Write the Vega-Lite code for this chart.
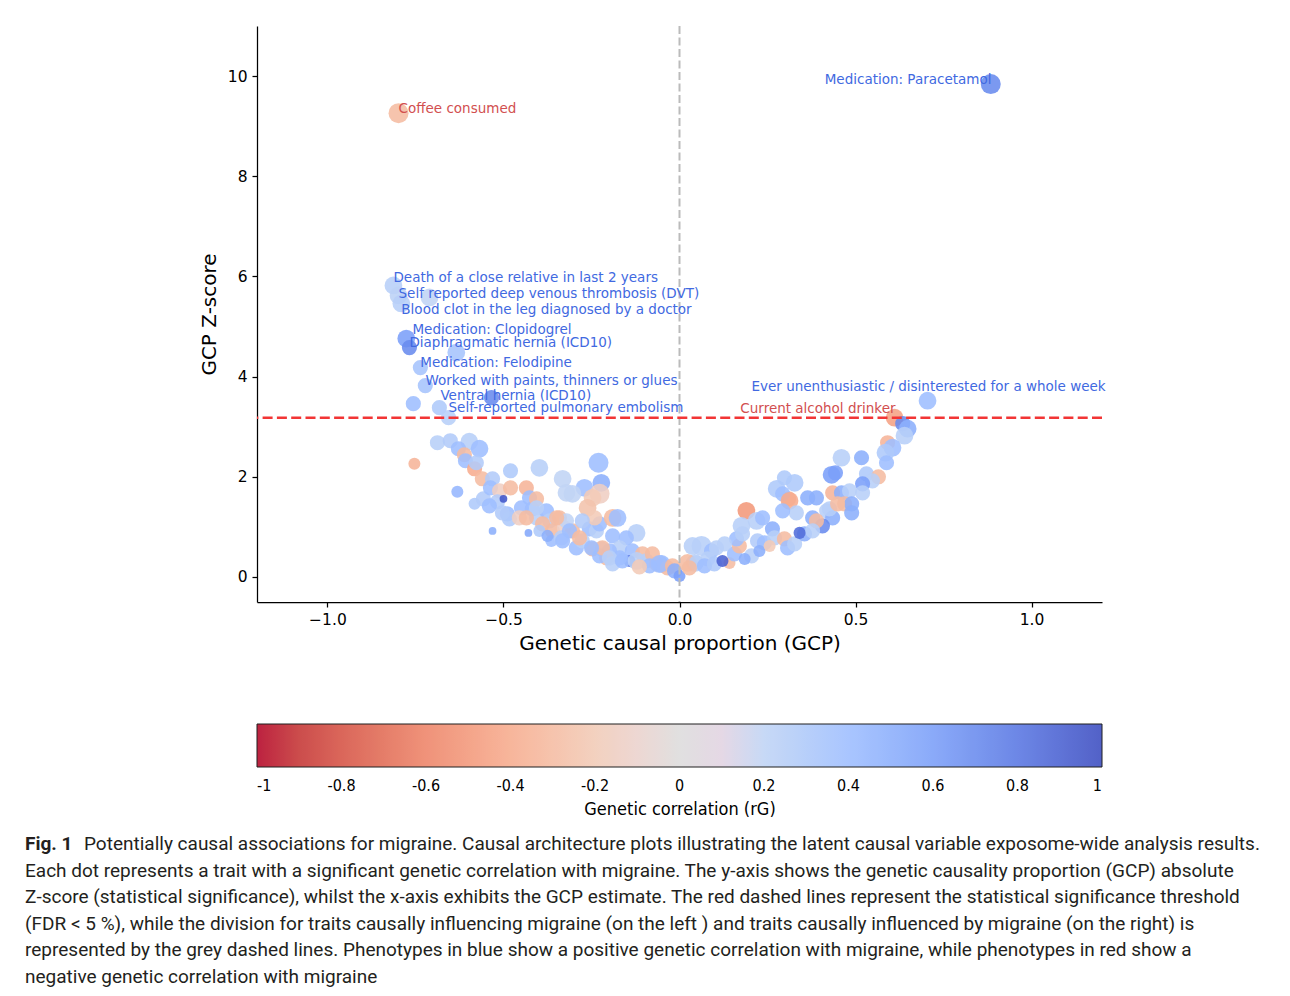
{
  "$schema": "https://vega.github.io/schema/vega-lite/v6.json",
  "background": "white",
  "padding": {"left": 25, "top": 25, "right": 0, "bottom": 0},
  "config": {"view": {"stroke": null}, "font": "DejaVu Sans"},
  "resolve": {"scale": {"color": "independent", "x": "independent", "y": "independent"}, "legend": {"color": "independent"}},
  "spacing": 16,
  "vconcat": [
    {
      "width": 845,
      "height": 576,
      "layer": [
        {
          "data": {"values": [
            {"gcp": -0.798, "z": 9.26, "rg": -0.3, "w": 5},
            {"gcp": 0.884, "z": 9.84, "rg": 0.7, "w": 5},
            {"gcp": -0.8125, "z": 5.82, "rg": 0.25, "w": 4},
            {"gcp": -0.798, "z": 5.62, "rg": 0.22, "w": 4},
            {"gcp": -0.79, "z": 5.46, "rg": 0.25, "w": 4},
            {"gcp": -0.71, "z": 5.58, "rg": 0.2, "w": 4},
            {"gcp": -0.776, "z": 4.76, "rg": 0.6, "w": 4},
            {"gcp": -0.767, "z": 4.58, "rg": 0.7, "w": 3},
            {"gcp": -0.634, "z": 4.48, "rg": 0.35, "w": 4},
            {"gcp": -0.736, "z": 4.18, "rg": 0.35, "w": 3},
            {"gcp": -0.722, "z": 3.82, "rg": 0.35, "w": 3},
            {"gcp": -0.756, "z": 3.46, "rg": 0.4, "w": 3},
            {"gcp": -0.534, "z": 3.58, "rg": 0.7, "w": 3},
            {"gcp": -0.682, "z": 3.38, "rg": 0.3, "w": 3},
            {"gcp": -0.656, "z": 3.18, "rg": 0.25, "w": 3},
            {"gcp": -0.6875, "z": 2.68, "rg": 0.25, "w": 3},
            {"gcp": -0.651, "z": 2.72, "rg": 0.28, "w": 3},
            {"gcp": -0.597, "z": 2.7, "rg": 0.25, "w": 4},
            {"gcp": -0.568, "z": 2.56, "rg": 0.4, "w": 4},
            {"gcp": -0.628, "z": 2.56, "rg": 0.4, "w": 3},
            {"gcp": -0.611, "z": 2.44, "rg": -0.3, "w": 3},
            {"gcp": -0.608, "z": 2.32, "rg": 0.4, "w": 3},
            {"gcp": -0.582, "z": 2.16, "rg": -0.4, "w": 3},
            {"gcp": -0.577, "z": 2.28, "rg": 0.28, "w": 3},
            {"gcp": -0.753, "z": 2.26, "rg": -0.35, "w": 2},
            {"gcp": -0.631, "z": 1.7, "rg": 0.45, "w": 2},
            {"gcp": -0.582, "z": 1.46, "rg": 0.3, "w": 2},
            {"gcp": -0.557, "z": 1.56, "rg": 0.28, "w": 3},
            {"gcp": -0.531, "z": 0.92, "rg": 0.5, "w": 1},
            {"gcp": -0.429, "z": 0.88, "rg": 0.55, "w": 1},
            {"gcp": -0.48, "z": 2.12, "rg": 0.3, "w": 3},
            {"gcp": -0.398, "z": 2.18, "rg": 0.25, "w": 4},
            {"gcp": -0.56, "z": 1.96, "rg": -0.3, "w": 3},
            {"gcp": -0.531, "z": 1.96, "rg": 0.28, "w": 3},
            {"gcp": -0.537, "z": 1.78, "rg": 0.4, "w": 3},
            {"gcp": -0.511, "z": 1.72, "rg": -0.15, "w": 3},
            {"gcp": -0.48, "z": 1.78, "rg": -0.3, "w": 3},
            {"gcp": -0.435, "z": 1.78, "rg": -0.35, "w": 3},
            {"gcp": -0.517, "z": 1.5, "rg": 0.28, "w": 3},
            {"gcp": -0.489, "z": 1.26, "rg": 0.4, "w": 3},
            {"gcp": -0.483, "z": 1.16, "rg": 0.3, "w": 3},
            {"gcp": -0.449, "z": 1.38, "rg": 0.4, "w": 3},
            {"gcp": -0.455, "z": 1.18, "rg": -0.15, "w": 3},
            {"gcp": -0.418, "z": 1.36, "rg": 0.4, "w": 3},
            {"gcp": -0.406, "z": 1.18, "rg": 0.25, "w": 3},
            {"gcp": -0.378, "z": 1.32, "rg": 0.4, "w": 3},
            {"gcp": -0.369, "z": 1.12, "rg": 0.25, "w": 3},
            {"gcp": -0.389, "z": 1.06, "rg": -0.3, "w": 3},
            {"gcp": -0.341, "z": 1.18, "rg": -0.3, "w": 3},
            {"gcp": -0.361, "z": 0.92, "rg": -0.3, "w": 3},
            {"gcp": -0.327, "z": 0.98, "rg": -0.15, "w": 3},
            {"gcp": -0.304, "z": 0.92, "rg": -0.3, "w": 3},
            {"gcp": -0.364, "z": 0.72, "rg": 0.4, "w": 2},
            {"gcp": -0.335, "z": 0.78, "rg": 0.25, "w": 3},
            {"gcp": -0.293, "z": 0.58, "rg": 0.4, "w": 3},
            {"gcp": -0.256, "z": 0.96, "rg": 0.4, "w": 3},
            {"gcp": -0.236, "z": 0.92, "rg": 0.25, "w": 3},
            {"gcp": -0.227, "z": 1.06, "rg": 0.4, "w": 3},
            {"gcp": -0.19, "z": 1.18, "rg": -0.3, "w": 4},
            {"gcp": -0.176, "z": 1.18, "rg": 0.4, "w": 4},
            {"gcp": -0.122, "z": 0.88, "rg": 0.25, "w": 4},
            {"gcp": -0.19, "z": 0.82, "rg": 0.4, "w": 3},
            {"gcp": -0.151, "z": 0.78, "rg": 0.4, "w": 3},
            {"gcp": -0.17, "z": 0.58, "rg": 0.25, "w": 3},
            {"gcp": -0.247, "z": 0.56, "rg": -0.3, "w": 3},
            {"gcp": -0.222, "z": 0.56, "rg": 0.25, "w": 3},
            {"gcp": -0.199, "z": 0.52, "rg": 0.4, "w": 3},
            {"gcp": -0.276, "z": 0.72, "rg": 0.25, "w": 3},
            {"gcp": -0.134, "z": 0.52, "rg": 0.4, "w": 3},
            {"gcp": -0.142, "z": 0.32, "rg": 0.8, "w": 2},
            {"gcp": -0.105, "z": 0.46, "rg": -0.3, "w": 3},
            {"gcp": -0.094, "z": 0.32, "rg": 0.25, "w": 3},
            {"gcp": -0.065, "z": 0.26, "rg": -0.3, "w": 3},
            {"gcp": -0.051, "z": 0.26, "rg": 0.4, "w": 4},
            {"gcp": -0.034, "z": 0.18, "rg": -0.3, "w": 3},
            {"gcp": -0.17, "z": 0.38, "rg": 0.4, "w": 3},
            {"gcp": -0.207, "z": 0.38, "rg": -0.3, "w": 3},
            {"gcp": -0.227, "z": 0.42, "rg": 0.4, "w": 3},
            {"gcp": -0.19, "z": 0.26, "rg": 0.25, "w": 3},
            {"gcp": -0.23, "z": 2.28, "rg": 0.4, "w": 5},
            {"gcp": -0.222, "z": 1.88, "rg": 0.5, "w": 4},
            {"gcp": -0.332, "z": 1.96, "rg": 0.2, "w": 4},
            {"gcp": -0.321, "z": 1.68, "rg": 0.2, "w": 4},
            {"gcp": -0.27, "z": 1.78, "rg": 0.4, "w": 4},
            {"gcp": -0.227, "z": 1.66, "rg": -0.15, "w": 5},
            {"gcp": -0.247, "z": 1.58, "rg": -0.2, "w": 4},
            {"gcp": -0.261, "z": 1.38, "rg": -0.25, "w": 4},
            {"gcp": -0.241, "z": 1.18, "rg": -0.2, "w": 3},
            {"gcp": -0.304, "z": 1.66, "rg": 0.2, "w": 4},
            {"gcp": -0.426, "z": 1.58, "rg": 0.4, "w": 3},
            {"gcp": -0.406, "z": 1.56, "rg": -0.3, "w": 3},
            {"gcp": -0.321, "z": 1.12, "rg": 0.2, "w": 3},
            {"gcp": -0.349, "z": 1.18, "rg": -0.3, "w": 3},
            {"gcp": -0.276, "z": 1.12, "rg": 0.28, "w": 3},
            {"gcp": -0.3125, "z": 0.92, "rg": 0.4, "w": 3},
            {"gcp": -0.219, "z": 0.58, "rg": -0.3, "w": 3},
            {"gcp": -0.199, "z": 0.38, "rg": 0.25, "w": 3},
            {"gcp": -0.162, "z": 0.32, "rg": 0.4, "w": 3},
            {"gcp": -0.332, "z": 0.72, "rg": 0.4, "w": 3},
            {"gcp": -0.25, "z": 0.58, "rg": 0.4, "w": 3},
            {"gcp": -0.284, "z": 0.78, "rg": -0.3, "w": 3},
            {"gcp": -0.122, "z": 0.32, "rg": 0.25, "w": 4},
            {"gcp": -0.077, "z": 0.46, "rg": -0.3, "w": 3},
            {"gcp": -0.057, "z": 0.26, "rg": 0.4, "w": 4},
            {"gcp": -0.02, "z": 0.22, "rg": -0.3, "w": 3},
            {"gcp": -0.406, "z": 1.38, "rg": 0.25, "w": 3},
            {"gcp": -0.435, "z": 1.18, "rg": -0.3, "w": 3},
            {"gcp": -0.54, "z": 1.42, "rg": 0.4, "w": 3},
            {"gcp": -0.503, "z": 1.28, "rg": 0.28, "w": 3},
            {"gcp": -0.398, "z": 0.92, "rg": 0.3, "w": 2},
            {"gcp": -0.375, "z": 0.82, "rg": 0.5, "w": 2},
            {"gcp": -0.085, "z": 0.22, "rg": 0.4, "w": 3},
            {"gcp": -0.114, "z": 0.2, "rg": -0.2, "w": 3},
            {"gcp": -0.014, "z": 0.12, "rg": 0.5, "w": 3},
            {"gcp": -0.5, "z": 1.56, "rg": 0.95, "w": 1},
            {"gcp": 0.0, "z": 0.02, "rg": 0.6, "w": 2},
            {"gcp": 0.7045, "z": 3.52, "rg": 0.4, "w": 4},
            {"gcp": 0.611, "z": 3.18, "rg": -0.45, "w": 4},
            {"gcp": 0.634, "z": 3.06, "rg": 0.7, "w": 3},
            {"gcp": 0.648, "z": 2.96, "rg": 0.5, "w": 4},
            {"gcp": 0.639, "z": 2.82, "rg": 0.25, "w": 4},
            {"gcp": 0.591, "z": 2.68, "rg": -0.35, "w": 3},
            {"gcp": 0.605, "z": 2.58, "rg": 0.4, "w": 4},
            {"gcp": 0.585, "z": 2.48, "rg": 0.3, "w": 4},
            {"gcp": 0.588, "z": 2.28, "rg": 0.4, "w": 3},
            {"gcp": 0.46, "z": 2.38, "rg": 0.25, "w": 4},
            {"gcp": 0.517, "z": 2.38, "rg": 0.5, "w": 3},
            {"gcp": 0.432, "z": 2.04, "rg": 0.6, "w": 4},
            {"gcp": 0.443, "z": 2.08, "rg": 0.6, "w": 3},
            {"gcp": 0.531, "z": 2.06, "rg": 0.3, "w": 3},
            {"gcp": 0.565, "z": 2.0, "rg": -0.3, "w": 3},
            {"gcp": 0.548, "z": 1.92, "rg": 0.25, "w": 3},
            {"gcp": 0.52, "z": 1.86, "rg": 0.6, "w": 3},
            {"gcp": 0.435, "z": 1.68, "rg": -0.35, "w": 3},
            {"gcp": 0.46, "z": 1.68, "rg": 0.5, "w": 3},
            {"gcp": 0.483, "z": 1.72, "rg": 0.25, "w": 3},
            {"gcp": 0.52, "z": 1.68, "rg": 0.25, "w": 3},
            {"gcp": 0.389, "z": 1.58, "rg": 0.5, "w": 3},
            {"gcp": 0.364, "z": 1.58, "rg": 0.5, "w": 3},
            {"gcp": 0.31, "z": 1.56, "rg": -0.35, "w": 3},
            {"gcp": 0.298, "z": 1.98, "rg": 0.3, "w": 3},
            {"gcp": 0.469, "z": 1.46, "rg": -0.3, "w": 3},
            {"gcp": 0.489, "z": 1.46, "rg": 0.5, "w": 3},
            {"gcp": 0.418, "z": 1.32, "rg": 0.25, "w": 3},
            {"gcp": 0.435, "z": 1.18, "rg": 0.5, "w": 3},
            {"gcp": 0.489, "z": 1.28, "rg": 0.5, "w": 3},
            {"gcp": 0.378, "z": 1.18, "rg": 0.5, "w": 3},
            {"gcp": 0.406, "z": 1.02, "rg": 0.7, "w": 3},
            {"gcp": 0.276, "z": 1.76, "rg": 0.3, "w": 4},
            {"gcp": 0.327, "z": 1.88, "rg": 0.3, "w": 4},
            {"gcp": 0.293, "z": 1.66, "rg": 0.4, "w": 3},
            {"gcp": 0.3125, "z": 1.52, "rg": -0.4, "w": 4},
            {"gcp": 0.332, "z": 1.28, "rg": 0.25, "w": 3},
            {"gcp": 0.293, "z": 1.32, "rg": 0.4, "w": 3},
            {"gcp": 0.389, "z": 1.12, "rg": -0.3, "w": 3},
            {"gcp": 0.19, "z": 1.32, "rg": -0.5, "w": 4},
            {"gcp": 0.176, "z": 1.02, "rg": 0.25, "w": 4},
            {"gcp": 0.219, "z": 1.12, "rg": 0.25, "w": 4},
            {"gcp": 0.236, "z": 1.18, "rg": 0.4, "w": 3},
            {"gcp": 0.0625, "z": 0.62, "rg": 0.25, "w": 5},
            {"gcp": 0.043, "z": 0.28, "rg": 0.25, "w": 4},
            {"gcp": 0.023, "z": 0.28, "rg": -0.3, "w": 4},
            {"gcp": 0.142, "z": 0.28, "rg": -0.3, "w": 2},
            {"gcp": 0.156, "z": 0.46, "rg": 0.4, "w": 3},
            {"gcp": 0.17, "z": 0.62, "rg": -0.3, "w": 3},
            {"gcp": 0.162, "z": 0.76, "rg": 0.4, "w": 3},
            {"gcp": 0.2045, "z": 0.42, "rg": 0.25, "w": 3},
            {"gcp": 0.2216, "z": 0.72, "rg": 0.28, "w": 3},
            {"gcp": 0.241, "z": 0.68, "rg": 0.4, "w": 3},
            {"gcp": 0.264, "z": 0.96, "rg": 0.5, "w": 3},
            {"gcp": 0.27, "z": 0.78, "rg": 0.25, "w": 3},
            {"gcp": 0.298, "z": 0.76, "rg": -0.3, "w": 3},
            {"gcp": 0.307, "z": 0.58, "rg": 0.4, "w": 3},
            {"gcp": 0.327, "z": 0.66, "rg": 0.25, "w": 3},
            {"gcp": 0.355, "z": 0.86, "rg": 0.5, "w": 3},
            {"gcp": 0.378, "z": 0.92, "rg": 0.25, "w": 3},
            {"gcp": 0.426, "z": 1.36, "rg": 0.25, "w": 3},
            {"gcp": 0.449, "z": 1.46, "rg": -0.3, "w": 3},
            {"gcp": 0.091, "z": 0.52, "rg": 0.4, "w": 3},
            {"gcp": 0.105, "z": 0.58, "rg": 0.25, "w": 3},
            {"gcp": 0.128, "z": 0.66, "rg": 0.25, "w": 3},
            {"gcp": 0.08, "z": 0.36, "rg": 0.25, "w": 3},
            {"gcp": 0.179, "z": 0.86, "rg": 0.25, "w": 3},
            {"gcp": 0.037, "z": 0.62, "rg": 0.25, "w": 4},
            {"gcp": 0.048, "z": 0.28, "rg": 0.25, "w": 3},
            {"gcp": 0.028, "z": 0.18, "rg": -0.3, "w": 3},
            {"gcp": 0.071, "z": 0.22, "rg": 0.4, "w": 3},
            {"gcp": 0.099, "z": 0.26, "rg": 0.3, "w": 3},
            {"gcp": 0.185, "z": 0.36, "rg": 0.5, "w": 2},
            {"gcp": 0.227, "z": 0.52, "rg": 0.5, "w": 2},
            {"gcp": 0.256, "z": 0.62, "rg": -0.2, "w": 2},
            {"gcp": 0.122, "z": 0.32, "rg": 0.9, "w": 2},
            {"gcp": 0.341, "z": 0.88, "rg": 0.85, "w": 2}
          ]},
          "mark": {"type": "circle", "opacity": 0.88, "strokeWidth": 0},
          "encoding": {
            "x": {"field": "gcp", "type": "quantitative",
              "scale": {"domain": [-1.2, 1.2], "nice": false, "zero": false},
              "axis": {"values": [-1, -0.5, 0, 0.5, 1], "format": ".1f", "title": "Genetic causal proportion (GCP)", "grid": false,
                "domainColor": "black", "tickColor": "black", "domainWidth": 1.25, "tickWidth": 1.25, "tickSize": 5,
                "labelFont": "DejaVu Sans", "labelFontSize": 15.5, "labelColor": "black", "labelPadding": 5,
                "titleFont": "DejaVu Sans", "titleFontSize": 20, "titleFontWeight": "normal", "titleColor": "black", "titlePadding": 6}},
            "y": {"field": "z", "type": "quantitative",
              "scale": {"domain": [-0.5, 11], "nice": false, "zero": false},
              "axis": {"values": [0, 2, 4, 6, 8, 10], "format": "d", "title": "GCP Z-score", "grid": false,
                "domainColor": "black", "tickColor": "black", "domainWidth": 1.25, "tickWidth": 1.25, "tickSize": 5,
                "labelFont": "DejaVu Sans", "labelFontSize": 15.5, "labelColor": "black", "labelPadding": 5,
                "titleFont": "DejaVu Sans", "titleFontSize": 20, "titleFontWeight": "normal", "titleColor": "black", "titlePadding": 8}},
            "color": {"field": "rg", "type": "quantitative",
              "scale": {"domain": [-1, -0.8, -0.6, -0.4, -0.2, 0, 0.2, 0.4, 0.6, 0.8, 1],
                "range": ["#b40426", "#d65244", "#ee8468", "#f7ac8e", "#f2cbb7", "#dddcdc", "#c0d4f5", "#9ebeff", "#7b9ff9", "#5977e3", "#3b4cc0"]},
              "legend": {"orient": "none", "legendX": 0, "legendY": 698, "direction": "horizontal",
                "gradientLength": 845, "gradientThickness": 43, "gradientStrokeColor": "#000000", "gradientStrokeWidth": 1,
                "values": [-1, -0.8, -0.6, -0.4, -0.2, 0, 0.2, 0.4, 0.6, 0.8, 1],
                "labelExpr": "'' + datum.value", "labelFont": "DejaVu Sans Condensed, DejaVu Sans, sans-serif",
                "labelFontSize": 16, "labelAlign": "center", "labelOffset": 11, "labelColor": "black", "labelOverlap": false,
                "title": "Genetic correlation (rG)", "titleOrient": "bottom", "titleAnchor": "middle", "titleLimit": 2000,
                "titleFont": "DejaVu Sans Condensed, DejaVu Sans, sans-serif", "titleFontSize": 18,
                "titleFontWeight": "normal", "titleColor": "black", "titlePadding": 7, "padding": 0}},
            "size": {"field": "w", "type": "quantitative", "scale": {"domain": [1, 5], "range": [60, 400]}, "legend": null}
          }
        },
        {
          "data": {"values": [{"gcp": 0}]},
          "mark": {"type": "rule", "color": "#bbbbbb", "strokeWidth": 2, "strokeDash": [8, 3.5]},
          "encoding": {"x": {"field": "gcp", "type": "quantitative"}}
        },
        {
          "data": {"values": [{"z": 3.18}]},
          "mark": {"type": "rule", "color": "#f23535", "strokeWidth": 2.4, "strokeDash": [10, 4.3]},
          "encoding": {"y": {"field": "z", "type": "quantitative"}}
        },
        {
          "data": {"values": [
            {"label": "Coffee consumed", "gcp": -0.798, "z": 9.34, "side": "left", "sign": "neg"},
            {"label": "Medication: Paracetamol", "gcp": 0.886, "z": 9.92, "side": "right", "sign": "pos"},
            {"label": "Death of a close relative in last 2 years", "gcp": -0.8125, "z": 5.96, "side": "left", "sign": "pos"},
            {"label": "Self reported deep venous thrombosis (DVT)", "gcp": -0.798, "z": 5.64, "side": "left", "sign": "pos"},
            {"label": "Blood clot in the leg diagnosed by a doctor", "gcp": -0.79, "z": 5.32, "side": "left", "sign": "pos"},
            {"label": "Medication: Clopidogrel", "gcp": -0.7585, "z": 4.94, "side": "left", "sign": "pos"},
            {"label": "Diaphragmatic hernia (ICD10)", "gcp": -0.767, "z": 4.68, "side": "left", "sign": "pos"},
            {"label": "Medication: Felodipine", "gcp": -0.736, "z": 4.28, "side": "left", "sign": "pos"},
            {"label": "Worked with paints, thinners or glues", "gcp": -0.7216, "z": 3.92, "side": "left", "sign": "pos"},
            {"label": "Ventral hernia (ICD10)", "gcp": -0.679, "z": 3.62, "side": "left", "sign": "pos"},
            {"label": "Self-reported pulmonary embolism", "gcp": -0.656, "z": 3.38, "side": "left", "sign": "pos"},
            {"label": "Ever unenthusiastic / disinterested for a whole week", "gcp": 0.2045, "z": 3.8, "side": "left", "sign": "pos"},
            {"label": "Current alcohol drinker", "gcp": 0.6136, "z": 3.36, "side": "right", "sign": "neg"}
          ]},
          "layer": [
            {
              "transform": [{"filter": "datum.side == 'left'"}],
              "mark": {"type": "text", "align": "left", "baseline": "middle", "font": "DejaVu Sans", "fontSize": 13.5},
              "encoding": {
                "x": {"field": "gcp", "type": "quantitative"},
                "y": {"field": "z", "type": "quantitative"},
                "text": {"field": "label"},
                "color": {"condition": {"test": "datum.sign == 'neg'", "value": "#d24f4f"}, "value": "#4169e1"}
              }
            },
            {
              "transform": [{"filter": "datum.side == 'right'"}],
              "mark": {"type": "text", "align": "right", "baseline": "middle", "font": "DejaVu Sans", "fontSize": 13.5},
              "encoding": {
                "x": {"field": "gcp", "type": "quantitative"},
                "y": {"field": "z", "type": "quantitative"},
                "text": {"field": "label"},
                "color": {"condition": {"test": "datum.sign == 'neg'", "value": "#d24f4f"}, "value": "#4169e1"}
              }
            }
          ]
        }
      ]
    },
    {
      "width": 1000,
      "height": 133,
      "data": {"values": [
        {"line": 1, "text": "Potentially causal associations for migraine. Causal architecture plots illustrating the latent causal variable exposome-wide analysis results."},
        {"line": 2, "text": "Each dot represents a trait with a significant genetic correlation with migraine. The y-axis shows the genetic causality proportion (GCP) absolute"},
        {"line": 3, "text": "Z-score (statistical significance), whilst the x-axis exhibits the GCP estimate. The red dashed lines represent the statistical significance threshold"},
        {"line": 4, "text": "(FDR < 5 %), while the division for traits causally influencing migraine (on the left ) and traits causally influenced by migraine (on the right) is"},
        {"line": 5, "text": "represented by the grey dashed lines. Phenotypes in blue show a positive genetic correlation with migraine, while phenotypes in red show a"},
        {"line": 6, "text": "negative genetic correlation with migraine"}
      ]},
      "encoding": {
        "x": {"datum": 0, "type": "quantitative", "scale": {"domain": [0, 1]}, "axis": null},
        "y": {"field": "line", "type": "quantitative", "scale": {"domain": [1, 6], "reverse": true, "nice": false, "zero": false}, "axis": null},
        "text": {"field": "text"}
      },
      "layer": [
        {
          "transform": [{"filter": "datum.line == 1"}],
          "mark": {"type": "text", "align": "left", "baseline": "middle", "dx": -173, "font": "Roboto", "fontSize": 19, "color": "#231f20"}
        },
        {
          "transform": [{"filter": "datum.line > 1"}],
          "mark": {"type": "text", "align": "left", "baseline": "middle", "dx": -232, "font": "Roboto", "fontSize": 19, "color": "#231f20"}
        },
        {
          "transform": [{"filter": "datum.line == 1"}, {"calculate": "'Fig. 1'", "as": "text"}],
          "mark": {"type": "text", "align": "left", "baseline": "middle", "dx": -232, "font": "Roboto", "fontSize": 19, "fontWeight": "bold", "color": "#231f20"}
        }
      ]
    }
  ]
}
